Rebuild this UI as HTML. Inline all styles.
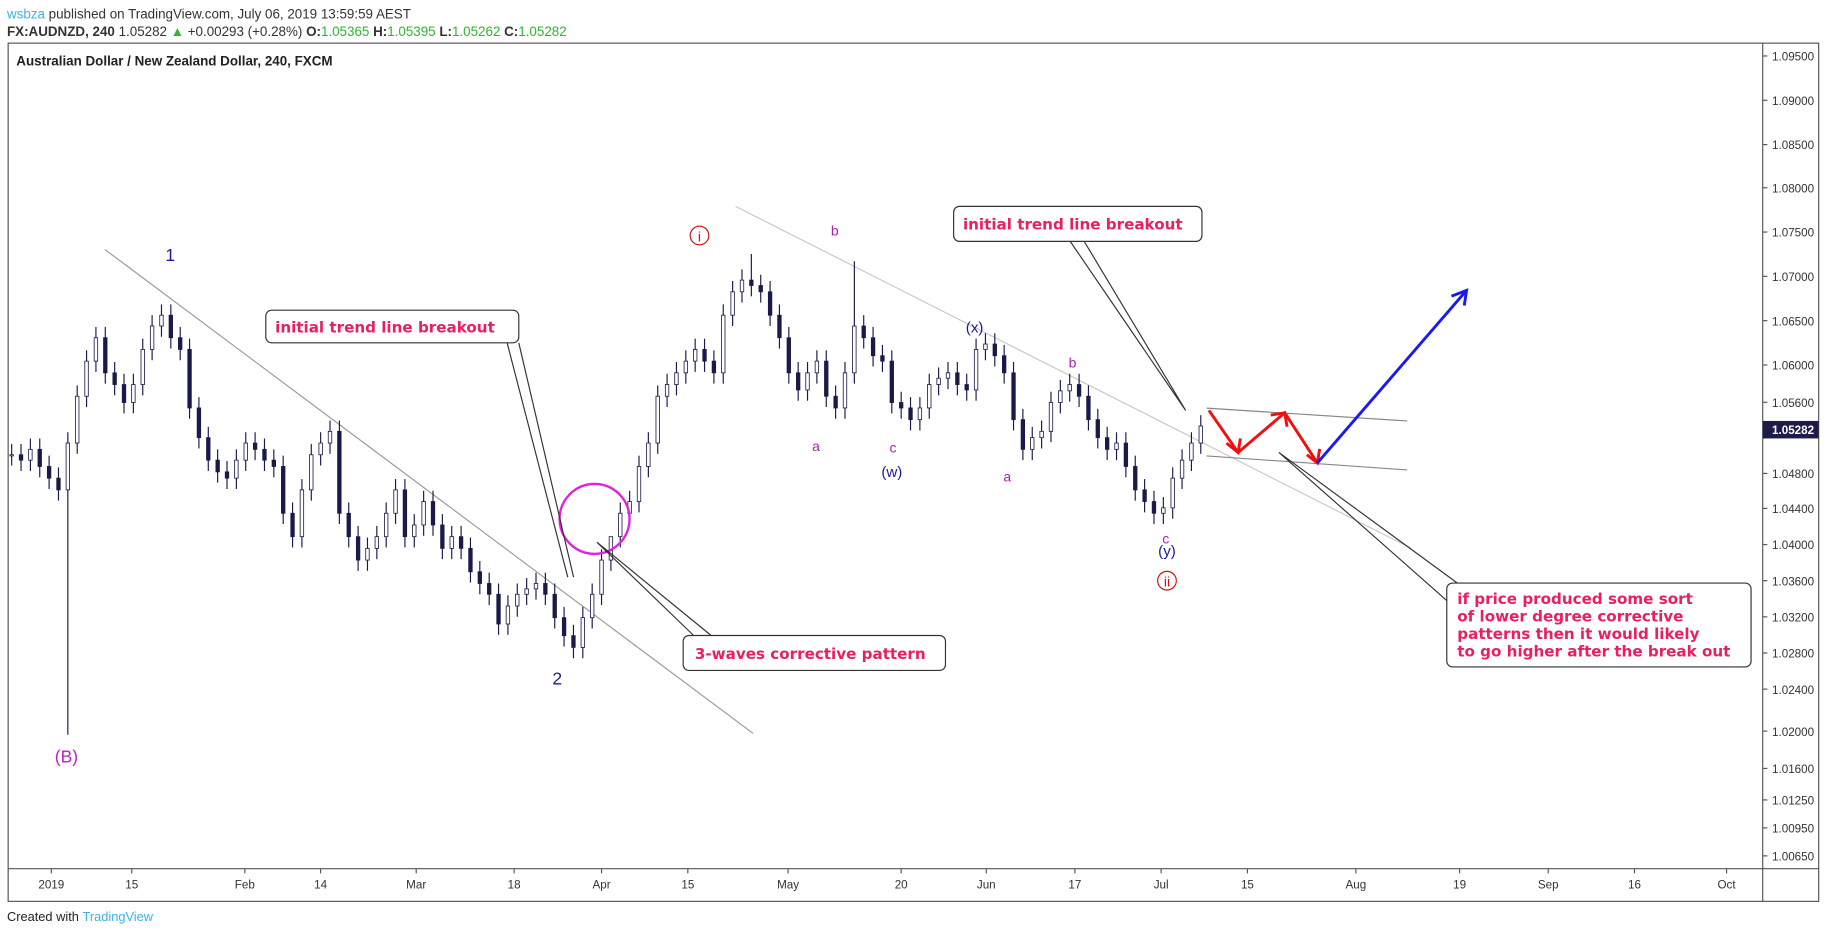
<!DOCTYPE html>
<html><head><meta charset="utf-8"><style>
html,body{margin:0;padding:0;background:#fff;width:1828px;height:934px;overflow:hidden}
svg{display:block;font-family:"Liberation Sans",sans-serif}
</style></head><body>
<svg id="c" width="1828" height="934" viewBox="0 0 1568 801" preserveAspectRatio="none" xmlns="http://www.w3.org/2000/svg">
<text x="6" y="16" font-size="11.5" fill="#333"><tspan fill="#3bb3e4">wsbza</tspan> published on TradingView.com, July 06, 2019 13:59:59 AEST</text>
<text x="6" y="31" font-size="11.5" fill="#333"><tspan font-weight="bold">FX:AUDNZD, 240</tspan> 1.05282 <tspan fill="#2fb52f">▲</tspan> +0.00293 (+0.28%) <tspan font-weight="bold">O:</tspan><tspan fill="#2fb52f">1.05365</tspan> <tspan font-weight="bold">H:</tspan><tspan fill="#2fb52f">1.05395</tspan> <tspan font-weight="bold">L:</tspan><tspan fill="#2fb52f">1.05262</tspan> <tspan font-weight="bold">C:</tspan><tspan fill="#2fb52f">1.05282</tspan></text>
<rect x="7" y="37" width="1553" height="736" fill="none" stroke="#555" stroke-width="1"/>
<line x1="1512" y1="37" x2="1512" y2="773" stroke="#555"/>
<line x1="7" y1="745" x2="1560" y2="745" stroke="#555"/>
<text x="14" y="56" font-size="11.5" font-weight="bold" fill="#222">Australian Dollar / New Zealand Dollar, 240, FXCM</text>
<g id="yaxis"></g><g id="xaxis"></g>
<g id="trend" fill="none">
<line x1="90" y1="214" x2="646" y2="629" stroke="#999"/>
<line x1="631" y1="177" x2="1210" y2="470" stroke="#c8c8c8"/>
<line x1="1035" y1="350" x2="1207" y2="361" stroke="#888"/>
<line x1="1035" y1="391" x2="1207" y2="403" stroke="#888"/>
</g>
<g id="candles"></g>
<circle cx="510" cy="445" r="30" fill="none" stroke="#e020e0" stroke-width="2"/>
<g stroke="#f01010" stroke-width="2.5" fill="none">
<polyline points="1037,352 1062,388 1102,354 1130,397"/>
<polyline points="1052,380 1062,388 1064,376"/><polyline points="1090,356 1102,354 1104,366"/><polyline points="1121,390 1130,397 1132,385"/>
</g>
<g stroke="#1a1af0" stroke-width="2.5" fill="none">
<line x1="1130" y1="397" x2="1258" y2="249"/><polyline points="1245,254 1258,249 1256,262"/>
</g>
<g fill="none" stroke="#333" stroke-width="1">
<polyline points="435,294 487,495"/><polyline points="445,294 492,495"/>
<polyline points="595,545 512,465 610,545"/>
<polyline points="918,207 1017,352 930,207"/>
<polyline points="1250,500 1097,388 1241,515"/>
</g>
<g font-family="DejaVu Sans,sans-serif" font-weight="bold" fill="#e91e63" font-size="13">
<rect x="228" y="266" width="217" height="28" rx="5" fill="#fff" stroke="#333"/>
<text x="236" y="285">initial trend line breakout</text>
<rect x="586" y="545" width="225" height="30" rx="5" fill="#fff" stroke="#333"/>
<text x="596" y="565">3-waves corrective pattern</text>
<rect x="818" y="177" width="213" height="30" rx="5" fill="#fff" stroke="#333"/>
<text x="826" y="197">initial trend line breakout</text>
<rect x="1241" y="500" width="261" height="72" rx="5" fill="#fff" stroke="#333"/>
<text x="1250" y="518">if price produced some sort</text>
<text x="1250" y="533">of lower degree corrective</text>
<text x="1250" y="548">patterns then it would likely</text>
<text x="1250" y="563">to go higher after the break out</text>
</g>
<g font-size="15" text-anchor="middle">
<text x="146" y="224" fill="#1a1aa0">1</text>
<text x="478" y="587" fill="#1a1aa0">2</text>
<text x="57" y="654" fill="#c020c0">(B)</text>
<circle cx="600" cy="202" r="8" fill="none" stroke="#d01010"/><text x="600" y="207" fill="#d01010" font-size="12">i</text>
<circle cx="1001" cy="498" r="8" fill="none" stroke="#d01010"/><text x="1001" y="503" fill="#d01010" font-size="12">ii</text>
<g fill="#b020b0" font-size="12"><text x="716" y="202">b</text><text x="700" y="387">a</text><text x="766" y="388">c</text><text x="920" y="315">b</text><text x="864" y="413">a</text><text x="1000" y="466">c</text></g>
<g fill="#1a1aa0" font-size="13"><text x="765" y="409">(w)</text><text x="836" y="285">(x)</text><text x="1001" y="477">(y)</text></g>
</g>
<rect x="1512" y="361" width="48" height="15" fill="#1e1a4a"/>
<text x="1520" y="372" font-size="10" font-weight="bold" fill="#fff">1.05282</text>
<text x="6" y="790" font-size="11" fill="#222">Created with <tspan fill="#3bb3e4">TradingView</tspan></text>
</svg>
<script>
const closes=[1.0507,1.0501,1.0513,1.0494,1.0481,1.0468,1.0520,1.0572,1.0611,1.0637,1.0598,1.0585,1.0565,1.0585,1.0624,1.0650,1.0662,1.0637,1.0624,1.0559,1.0526,1.0501,1.0488,1.0481,1.0501,1.0520,1.0513,1.0501,1.0494,1.0442,1.0416,1.0468,1.0507,1.0520,1.0533,1.0442,1.0416,1.0390,1.0403,1.0416,1.0442,1.0468,1.0416,1.0429,1.0455,1.0429,1.0403,1.0416,1.0403,1.0377,1.0364,1.0352,1.0319,1.0339,1.0352,1.0358,1.0364,1.0352,1.0326,1.0306,1.0293,1.0326,1.0352,1.0390,1.0416,1.0442,1.0455,1.0494,1.0520,1.0572,1.0585,1.0598,1.0611,1.0624,1.0611,1.0598,1.0662,1.0688,1.0701,1.0695,1.0688,1.0662,1.0637,1.0598,1.0579,1.0598,1.0611,1.0572,1.0559,1.0598,1.0650,1.0637,1.0617,1.0611,1.0565,1.0559,1.0546,1.0559,1.0585,1.0592,1.0598,1.0585,1.0579,1.0624,1.0630,1.0617,1.0598,1.0546,1.0513,1.0526,1.0533,1.0565,1.0578,1.0585,1.0572,1.0546,1.0526,1.0513,1.0520,1.0494,1.0468,1.0455,1.0442,1.0448,1.0481,1.0501,1.0520,1.0539];
const spikes={6:1.0196,64:1.0390,79:1.0730,90:1.0722};
const yTicks=[1.095,1.09,1.085,1.08,1.075,1.07,1.065,1.06,1.056,1.048,1.044,1.04,1.036,1.032,1.028,1.024,1.02,1.016,1.0125,1.0095,1.0065];
const yTickPos=[48,86,124,161,199,237,275,313,345,406,436,467,498,529,560,591,627,659,686,710,734];
const xLabels=["2019","15","Feb","14","Mar","18","Apr","15","May","20","Jun","17","Jul","15","Aug","19","Sep","16","Oct"];
const xLabelPos=[44,113,210,275,357,441,516,590,676,773,846,922,996,1070,1163,1252,1328,1402,1481];
const NS="http://www.w3.org/2000/svg";
function y(p){return 48+(1.095-p)*7720;}
function x(i){return 10+i*(1020/(closes.length-1));}
function mk(t,a,par){const e=document.createElementNS(NS,t);for(const k in a)e.setAttribute(k,a[k]);document.getElementById(par).appendChild(e);return e;}
yTicks.forEach((v,i)=>{
 const l=mk('line',{x1:1512,x2:1516,y1:yTickPos[i],y2:yTickPos[i],stroke:'#555'},'yaxis');
 
 
 const t=mk('text',{x:1520,y:yTickPos[i]+4,'font-size':10,fill:'#333'},'yaxis');
 
 
 t.textContent=v.toFixed(5);
});
xLabels.forEach((s,i)=>{
 const l=mk('line',{x1:xLabelPos[i],x2:xLabelPos[i],y1:745,y2:749,stroke:'#555'},'xaxis');
 
 
 const t=mk('text',{x:xLabelPos[i],y:762,'font-size':10,fill:'#333','text-anchor':'middle'},'xaxis');
 
 
 t.textContent=s;
});
closes.forEach((c,i)=>{
 const o=i?closes[i-1]:c;
 let hi=Math.max(o,c)+0.0012, lo=Math.min(o,c)-0.0012;
 if(spikes[i]!==undefined){if(spikes[i]<lo)lo=spikes[i];else hi=spikes[i];}
 const cx=x(i);
 const w=mk('line',{x1:cx,x2:cx,y1:y(hi),y2:y(lo),stroke:'#1a1a4a'},'candles');
 
 
 const b=mk('rect',{x:cx-1.5,width:3,y:y(Math.max(o,c)),height:Math.max(1,Math.abs(y(o)-y(c))),fill:c>=o?'#fff':'#1a1a4a',stroke:'#1a1a4a','stroke-width':0.7},'candles');
 
 
});
</script>
</body></html>
